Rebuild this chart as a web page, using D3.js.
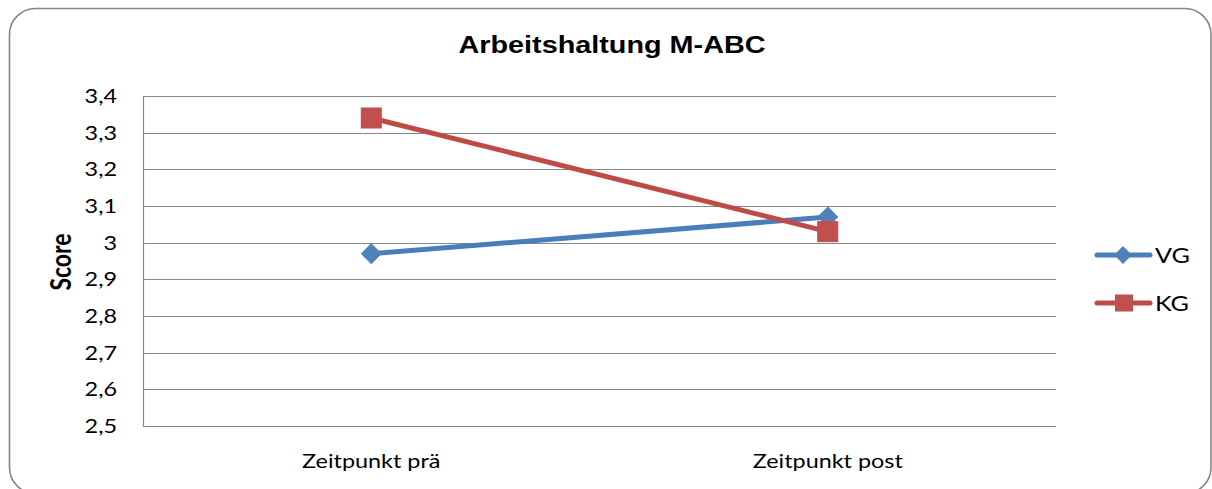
<!DOCTYPE html>
<html><head><meta charset="utf-8">
<script src="https://cdn.jsdelivr.net/npm/d3@7"></script>
<style>body{margin:0;background:#fff}svg{display:block}</style>
</head><body>
<script>
const categories = ["Zeitpunkt prä", "Zeitpunkt post"];
const seriesNames = ["VG", "KG"];
const vgValues = [2.97, 3.07];
const kgValues = [3.34, 3.03];
const yTicks = [2.5, 2.6, 2.7, 2.8, 2.9, 3.0, 3.1, 3.2, 3.3, 3.4];
const title = "Arbeitshaltung M-ABC";
const yTitle = "Score";

const W = 1212, H = 489, SX = 1.2;
const svg = d3.select("body").append("svg").attr("width", W).attr("height", H);
svg.append("rect").attr("x", 9.5).attr("y", 8.5).attr("width", 1201.5).attr("height", 485)
  .attr("rx", 26).attr("fill", "#fff").attr("stroke", "#868686").attr("stroke-width", 1.6);

const L = 143, R = 1056, T = 96, B = 426;
const x = d3.scaleBand().domain(categories).range([L, R]);
const y = d3.scaleLinear().domain([2.5, 3.4]).range([B, T]);
const fmt = v => String(+v.toFixed(1)).replace(".", ",");

function stext(g, tx, ty, str, opts) {
  const t = g.append("text").attr("transform", `translate(${tx},${ty}) scale(${SX},1)`)
    .text(str).attr("font-family", opts.family || "Lato, 'Open Sans', sans-serif")
    .attr("font-size", opts.size).attr("text-anchor", opts.anchor || "middle")
    .attr("fill", "#000");
  if (opts.weight) t.attr("font-weight", opts.weight);
  return t;
}

// gridlines
const grid = svg.append("g");
yTicks.forEach(v => {
  grid.append("line").attr("x1", L).attr("x2", R).attr("y1", Math.round(y(v)) + 0.5).attr("y2", Math.round(y(v)) + 0.5)
    .attr("stroke", "#878787").attr("stroke-width", 1.2);
});
// y axis line
svg.append("line").attr("x1", L + 0.5).attr("x2", L + 0.5).attr("y1", T).attr("y2", B + 1)
  .attr("stroke", "#878787").attr("stroke-width", 1.2);

// y tick labels
yTicks.forEach(v => stext(svg, 117, y(v) + 7, fmt(v), {size: 19.5, anchor: "end"}));
// x labels
categories.forEach(c => stext(svg, x(c) + x.bandwidth() / 2, 468, c, {size: 19.5}));

// title
stext(svg, 612, 53, title, {size: 24, weight: "bold", family: "'Liberation Sans', Arial, sans-serif"});
// y title
svg.append("text").attr("transform", `translate(71,262) scale(${SX},1) rotate(-90)`)
  .text(yTitle).attr("font-family", "Lato, sans-serif").attr("font-weight", "bold")
  .attr("font-size", 23).attr("text-anchor", "middle").attr("fill", "#000");

const cx = c => x(c) + x.bandwidth() / 2;
const line = d3.line().x(d => cx(d.c)).y(d => y(d.v));
const series = [
  {name: "VG", values: vgValues, line: "#4A7EBB", fill: "#4F81BD", shape: "diamond"},
  {name: "KG", values: kgValues, line: "#BE4B48", fill: "#C0504D", shape: "square"}
];
function marker(g, px, py, s) {
  if (s.shape === "diamond") {
    g.append("path").attr("d", `M${px},${py - 10}L${px + 10},${py}L${px},${py + 10}L${px - 10},${py}Z`)
      .attr("fill", s.fill).attr("stroke", s.line).attr("stroke-width", 1);
  } else {
    g.append("rect").attr("x", px - 10).attr("y", py - 10).attr("width", 20).attr("height", 20)
      .attr("fill", s.fill).attr("stroke", s.line).attr("stroke-width", 1);
  }
}
series.forEach(s => {
  const data = categories.map((c, i) => ({c, v: s.values[i]}));
  const g = svg.append("g");
  g.append("path").datum(data).attr("d", line).attr("fill", "none")
    .attr("stroke", s.line).attr("stroke-width", 5).attr("stroke-linecap", "round");
  data.forEach(d => marker(g, cx(d.c), y(d.v), s));
});

// legend
const legY = [255, 303];
series.forEach((s, i) => {
  const g = svg.append("g");
  g.append("line").attr("x1", 1097).attr("x2", 1150).attr("y1", legY[i]).attr("y2", legY[i])
    .attr("stroke", s.line).attr("stroke-width", 5).attr("stroke-linecap", "round");
  if (s.shape === "diamond") {
    g.append("path").attr("d", `M1123,${legY[i] - 9}L1132,${legY[i]}L1123,${legY[i] + 9}L1114,${legY[i]}Z`).attr("fill", s.fill);
  } else {
    g.append("rect").attr("x", 1115).attr("y", legY[i] - 8.5).attr("width", 18).attr("height", 17).attr("fill", s.fill);
  }
  stext(g, 1155, legY[i] + 8, s.name, {size: 21, anchor: "start"});
});
</script>
</body></html>
